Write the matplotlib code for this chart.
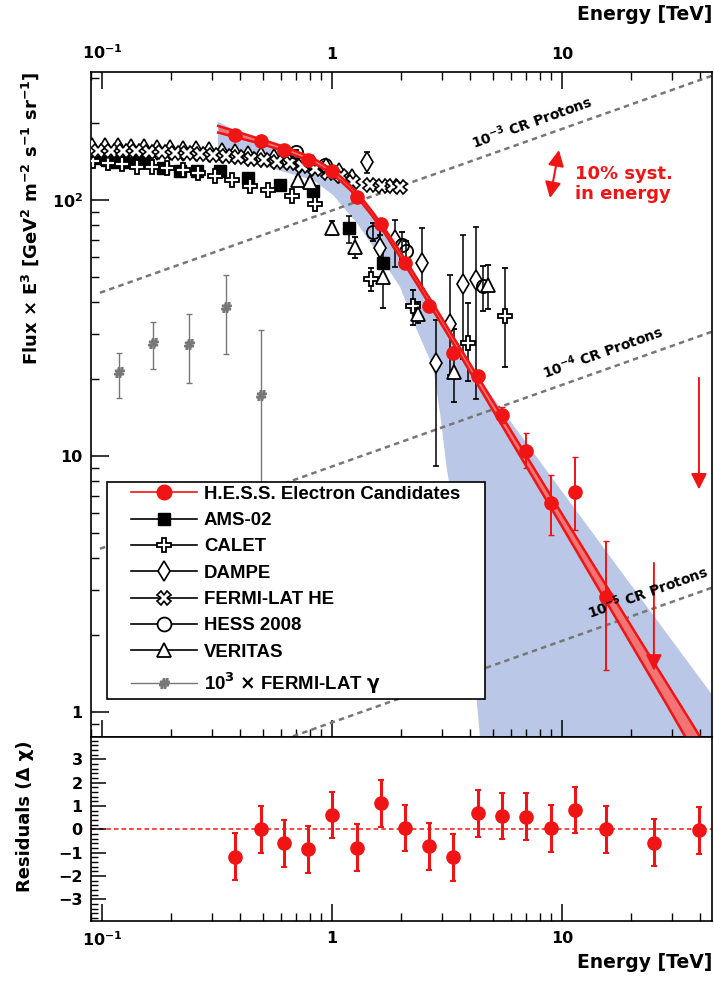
import numpy as np
import matplotlib
matplotlib.use('Agg')
import matplotlib.pyplot as plt
from matplotlib.lines import Line2D
from matplotlib.legend_handler import HandlerLine2D
from matplotlib.ticker import FuncFormatter, MultipleLocator, NullFormatter, LogLocator

plt.rcParams['font.family'] = ['DejaVu Sans']
plt.rcParams['font.weight'] = 'bold'
plt.rcParams['mathtext.fontset'] = 'dejavusans'
plt.rcParams['mathtext.default'] = 'bf'

RED = '#f01414'
BLUE = '#bac7e6'
GREY = '#777777'

# H.E.S.S. electron candidates (TeV, GeV^2 m^-2 s^-1 sr^-1)
hess_E = [0.38, 0.49, 0.62, 0.79, 1.0, 1.28, 1.63, 2.07, 2.64, 3.37, 4.3, 5.5, 7.0, 9.0, 11.4, 15.5]
hess_F = [179, 170, 157, 143, 130, 103, 80.6, 56.8, 38.5, 25.3, 20.5, 14.5, 10.46, 6.55, 7.23, 2.81]
hess_lo = [1.5, 1.5, 1.5, 1.5, 1.5, 1.5, 1.5, 1.5, 1.2, 1.0, 1.0, 1.0, 1.5, 1.65, 2.1, 1.35]
hess_hi = [1.5, 1.5, 1.5, 1.5, 1.5, 1.5, 1.5, 1.5, 1.2, 1.0, 1.0, 1.0, 1.8, 1.85, 2.7, 1.85]
ul_E = [25.1, 39.4]
ul_top = [3.82, 20.2]
ul_tip = [1.45, 7.4]

# broken power-law fit and its statistical band
model_E = [0.32, 0.4, 0.5, 0.63, 0.8, 0.9, 1.0, 1.1, 1.2, 1.35, 1.5, 1.7, 2.0, 2.4, 2.8,
           3.4, 4.0, 5.0, 6.3, 8.0, 10, 13, 17, 22, 28, 36, 45]
model_F = [189, 178.5, 168.3, 157.5, 144.6, 136.7, 128.6, 120.1, 111.7, 99.3, 88.1, 75.3, 60.4, 46.5, 37.2,
           27.9, 21.96, 15.75, 11.18, 7.83, 5.62, 3.80, 2.55, 1.737, 1.216, 0.835, 0.597]
model_w = [0.03, 0.025, 0.02, 0.02, 0.02, 0.02, 0.02, 0.02, 0.02, 0.02, 0.02, 0.02, 0.025, 0.025, 0.03,
           0.03, 0.035, 0.04, 0.045, 0.05, 0.055, 0.065, 0.075, 0.085, 0.095, 0.11, 0.12]

# systematic band
band_up_E = [0.319, 0.40, 0.5, 0.7, 1.0, 1.5, 2.0, 3.0, 4.6, 8.88, 14.6, 24.1, 45.5]
band_up_F = [202, 183, 171, 157, 131, 90, 62, 34.5, 18.8, 8.4, 4.59, 2.49, 1.15]
band_lo_E = [0.319, 0.486, 0.827, 1.01, 1.284, 1.62, 1.975, 2.34, 2.75, 2.95, 3.16, 3.68, 4.06, 4.27, 4.40, 4.45, 50]
band_lo_F = [143, 137, 119.7, 104.6, 81.3, 59.9, 45.8, 31.0, 22.3, 14.7, 8.84, 3.93, 1.91, 1.08, 0.8, 0.5, 0.5]

# other experiments
ams_E = [0.0914, 0.0981, 0.105, 0.114, 0.126, 0.142, 0.156, 0.184, 0.218, 0.260, 0.326, 0.431, 0.594, 0.827, 1.186, 1.666]
ams_F = [147, 146, 143, 141, 141, 143, 141, 133, 130, 130, 130, 122, 114, 108, 77.7, 56.7]
ams_lo = [0, 0, 0, 0, 0, 0, 0, 0, 0, 0, 0, 0, 2, 3, 10, 8]
ams_hi = [0, 0, 0, 0, 0, 0, 0, 0, 0, 0, 0, 0, 2, 3, 9, 8]

calet_E = [0.0914, 0.106, 0.122, 0.142, 0.165, 0.192, 0.225, 0.262, 0.310, 0.367, 0.440, 0.527, 0.670, 0.843, 1.48, 2.25, 3.9, 5.65]
calet_F = [142, 139.5, 138, 135, 135, 133, 131, 128, 124, 120, 113, 109, 104, 96.5, 49, 38.5, 27.6, 35.2]
calet_lo = [0, 0, 0, 0, 0, 0, 0, 0, 0, 0, 0, 0, 2, 3, 5, 6, 8, 13]
calet_hi = [0, 0, 0, 0, 0, 0, 0, 0, 0, 0, 0, 0, 2, 3, 5, 6, 12, 19]

dampe_E = [0.0905, 0.103, 0.117, 0.134, 0.152, 0.173, 0.198, 0.225, 0.256, 0.292, 0.332, 0.379, 0.431, 0.491,
           0.560, 0.637, 0.726, 0.827, 0.942, 1.07, 1.22, 1.42, 1.62, 1.88, 2.46, 2.83, 3.26, 3.71, 4.23]
dampe_F = [160, 159, 159, 158, 158, 157, 157, 156, 155, 154, 153, 151, 149, 147,
           145, 143, 140, 137, 133, 127, 121, 141, 65, 69.8, 56.7, 23.1, 32.8, 47, 48.7]
dampe_lo = [0, 0, 0, 0, 0, 0, 0, 0, 0, 0, 0, 0, 0, 0, 0, 0, 2, 2, 3, 4, 5, 13, 8, 15, 12, 14, 12, 23, 32]
dampe_hi = [0, 0, 0, 0, 0, 0, 0, 0, 0, 0, 0, 0, 0, 0, 0, 0, 2, 2, 3, 4, 5, 13, 8, 14, 21, 11, 18, 26, 30]

fermi_E = [0.096, 0.109, 0.124, 0.141, 0.160, 0.182, 0.207, 0.235, 0.267, 0.303, 0.345, 0.392, 0.445,
           0.506, 0.575, 0.654, 0.743, 0.845, 0.96, 1.09, 1.24, 1.46, 1.65, 1.84, 1.98]
fermi_F = [156, 156, 155, 155, 154, 154, 153, 152, 151, 150, 149, 147, 145,
           143, 141, 139, 136, 132, 128, 124, 118, 114, 113, 113, 112]

hess08_E = [0.70, 0.93, 1.51, 2.01, 2.10, 4.53]
hess08_F = [154, 137, 75, 66.7, 63, 46]
hess08_err = [3, 4, 6, 8, 6, 9]

veritas_E = [0.71, 0.80, 1.0, 1.26, 1.67, 2.36, 3.39, 4.76]
veritas_F = [120, 118, 78, 65.5, 50, 36, 21.3, 46.6]
veritas_lo = [3, 3, 5, 6, 12, 3, 5, 9]
veritas_hi = [3, 3, 5, 6, 7, 4, 10, 9]

gamma_E = [0.1186, 0.166, 0.239, 0.346, 0.491]
gamma_F = [21.2, 27.6, 27.4, 38.2, 17.3]
gamma_lo = [4.3, 5.7, 8.1, 13.2, 12.3]
gamma_hi = [4.0, 5.8, 8.5, 12.8, 13.8]

# cosmic-ray protons x 1e-3, 1e-4, 1e-5
proton_E = [0.098, 45]
proton_F = [43.4, 306]

# residuals
res_E = [0.38, 0.49, 0.62, 0.79, 1.0, 1.28, 1.63, 2.07, 2.64, 3.37, 4.3, 5.5, 7.0, 9.0, 11.4, 15.5, 25.1, 39.4]
res = [-1.17, 0.0, -0.6, -0.86, 0.61, -0.79, 1.11, 0.06, -0.73, -1.19, 0.69, 0.57, 0.54, 0.04, 0.83, 0.0, -0.57, -0.04]
res_err = [1.0, 1.0, 1.0, 1.0, 1.0, 1.0, 1.0, 1.0, 1.0, 1.0, 1.0, 1.0, 1.0, 1.0, 1.0, 1.0, 1.0, 1.0]


fig = plt.figure(figsize=(7.14, 9.81), dpi=100)
ax = fig.add_axes([0.1275, 0.2487, 0.8697, 0.6779])
rx = fig.add_axes([0.1275, 0.0612, 0.8697, 0.1875], sharex=ax)

ax.fill(np.concatenate([band_up_E, band_lo_E[::-1]]), np.concatenate([band_up_F, band_lo_F[::-1]]),
        color=BLUE, lw=0, zorder=1)

dash = (0, (2.2, 1.7))
for scale, txt, tE, tF in [(1e0, r'10$^{-3}$ CR Protons', 7.42, 202),
                           (1e-1, r'10$^{-4}$ CR Protons', 15.1, 25.5),
                           (1e-2, r'10$^{-5}$ CR Protons', 23.7, 2.94)]:
    ax.plot(proton_E, np.array(proton_F) * scale, ls=dash, color=GREY, lw=1.8, zorder=2)
    ax.text(tE, tF, txt, rotation=19.6, rotation_mode='anchor', ha='center', va='center',
            fontsize=10, zorder=6)

ekw = dict(ecolor='black', elinewidth=1.1, capsize=2.5, capthick=1.1, zorder=3, ls='none')
ax.errorbar(ams_E, ams_F, yerr=[ams_lo, ams_hi], fmt='s', ms=8.5, mfc='black', mec='black', **ekw)
ax.errorbar(calet_E, calet_F, yerr=[calet_lo, calet_hi], fmt='P', ms=10, mfc='white', mec='black', mew=1.3, **ekw)
ax.errorbar(dampe_E, dampe_F, yerr=[dampe_lo, dampe_hi], fmt='d', ms=10, mfc='white', mec='black', mew=1.2, **ekw)
ax.errorbar(fermi_E, fermi_F, fmt='X', ms=9.5, mfc='white', mec='black', mew=1.2, **ekw)
ax.errorbar(hess08_E, hess08_F, yerr=hess08_err, fmt='o', ms=9.5, mfc='none', mec='black', mew=1.3, **ekw)
ax.errorbar(veritas_E, veritas_F, yerr=[veritas_lo, veritas_hi], fmt='^', ms=10, mfc='white', mec='black', mew=1.3, **ekw)
ax.errorbar(gamma_E, gamma_F, yerr=[gamma_lo, gamma_hi], fmt='', marker=r'$\#$', ms=7, color=GREY, mec=GREY,
            ecolor=GREY, elinewidth=1.0, capsize=2.5, zorder=3, ls='none')

mF = np.array(model_F)
mw = np.array(model_w)
ax.fill_between(model_E, mF * (1 - mw), mF * (1 + mw), color='#f27474', lw=0, zorder=4)
ax.plot(model_E, mF * (1 - mw), color=RED, lw=1.8, zorder=4)
ax.plot(model_E, mF * (1 + mw), color=RED, lw=1.8, zorder=4)

ax.errorbar(hess_E, hess_F, yerr=[hess_lo, hess_hi], fmt='o', ms=9.5, color=RED,
            elinewidth=1.4, capsize=2, zorder=5, ls='none')
for e, top, tip in zip(ul_E, ul_top, ul_tip):
    ax.annotate('', xy=(e, tip), xytext=(e, top),
                arrowprops=dict(arrowstyle='-|>', color=RED, lw=1.4, mutation_scale=24,
                                shrinkA=0, shrinkB=0), zorder=5)

ax.annotate('', xy=(9.70, 156.7), xytext=(8.87, 101.8),
            arrowprops=dict(arrowstyle='<|-|>', color=RED, lw=1.5, mutation_scale=24,
                            shrinkA=0, shrinkB=0))
ax.text(11.39, 115.5, '10% syst.\nin energy', color=RED, fontsize=13, ha='left', va='center', linespacing=1.2)

ax.set_xscale('log')
ax.set_yscale('log')
ax.set_xlim(0.0896, 44.9)
ax.set_ylim(0.798, 316.2)
rx.set_ylim(-3.92, 3.95)

xlab = {0.1: r'$10^{-1}$', 1.0: '1', 10.0: '10'}
ylab = {1.0: '1', 10.0: '10', 100.0: r'$10^{2}$'}
ax.xaxis.set_major_formatter(FuncFormatter(lambda v, p: xlab.get(round(v, 6), '')))
ax.xaxis.set_minor_formatter(NullFormatter())
ax.yaxis.set_major_locator(LogLocator(base=10))
ax.yaxis.set_minor_locator(LogLocator(base=10, subs=np.arange(2, 10)))
ax.yaxis.set_major_formatter(FuncFormatter(lambda v, p: ylab.get(round(v, 6), '')))
ax.yaxis.set_minor_formatter(NullFormatter())

ax.tick_params(axis='x', which='both', direction='in', top=True, bottom=True,
               labeltop=True, labelbottom=False, labelsize=11.5, pad=7)
ax.tick_params(axis='x', which='major', length=12, width=1.1)
ax.tick_params(axis='x', which='minor', length=6, width=1.0)
ax.tick_params(axis='y', which='both', direction='in', left=True, right=False, labelsize=11.5, pad=6)
ax.tick_params(axis='y', which='major', length=13, width=1.1)
ax.tick_params(axis='y', which='minor', length=6, width=1.0)

rx.axhline(0, color=RED, ls=(0, (3, 2)), lw=1.1, zorder=1)
rx.errorbar(res_E, res, yerr=res_err, fmt='o', ms=9.5, color=RED, elinewidth=2.2, capsize=2,
            capthick=1.5, ls='none', zorder=3)
rx.yaxis.set_major_locator(MultipleLocator(1))
rx.yaxis.set_minor_locator(MultipleLocator(0.2))
rx.tick_params(axis='x', which='both', direction='in', top=False, bottom=True,
               labeltop=False, labelbottom=True, labelsize=11.5, pad=7)
rx.tick_params(axis='x', which='major', length=12, width=1.1)
rx.tick_params(axis='x', which='minor', length=6, width=1.0)
rx.tick_params(axis='y', which='both', direction='in', labelsize=11.5, pad=6)
rx.tick_params(axis='y', which='major', length=11, width=1.1)
rx.tick_params(axis='y', which='minor', length=5, width=1.0)

for a in (ax, rx):
    for s in a.spines.values():
        s.set_linewidth(1.2)

handles = [
    Line2D([], [], color=RED, marker='o', ms=10.5, lw=1.2),
    Line2D([], [], color='black', marker='s', ms=9, lw=1.2),
    Line2D([], [], color='black', marker='P', ms=10.5, mfc='white', mew=1.3, lw=1.2),
    Line2D([], [], color='black', marker='d', ms=10.5, mfc='white', mew=1.2, lw=1.2),
    Line2D([], [], color='black', marker='X', ms=10, mfc='white', mew=1.2, lw=1.2),
    Line2D([], [], color='black', marker='o', ms=10, mfc='white', mew=1.3, lw=1.2),
    Line2D([], [], color='black', marker='^', ms=10.5, mfc='white', mew=1.3, lw=1.2),
    Line2D([], [], color=GREY, marker=r'$\#$', ms=7, lw=1.0),
]
labels = ['H.E.S.S. Electron Candidates', 'AMS-02', 'CALET', 'DAMPE', 'FERMI-LAT HE',
          'HESS 2008', 'VERITAS', r'10$^{3}$ $\times$ FERMI-LAT $\gamma$']
leg = ax.legend(handles, labels, loc='upper left', bbox_to_anchor=(0.0258, 0.3835, 0.6087, 0.0),
                mode='expand', prop={'family': 'Liberation Sans', 'weight': 'bold', 'size': 13.4},
                frameon=True, fancybox=False, edgecolor='black', framealpha=1, borderpad=0.2,
                handlelength=4.62, handletextpad=0.38, labelspacing=0.5, borderaxespad=0,
                handler_map={Line2D: HandlerLine2D(xpad=1.07)})
leg.get_frame().set_linewidth(1.2)
leg.set_zorder(10)

fig.text(30 / 714, 1 - 71 / 981, r'Flux $\times$ E$^{3}$ [GeV$^{2}$ m$^{-2}$ s$^{-1}$ sr$^{-1}$]',
         rotation=90, ha='center', va='top', fontsize=13)
fig.text(25 / 714, 1 - 740 / 981, 'Residuals (Δ χ)', rotation=90, ha='center', va='top', fontsize=13)
fig.text(712 / 714, 1 - 15 / 981, 'Energy [TeV]', ha='right', va='center', fontsize=13.5)
fig.text(712 / 714, 1 - 963 / 981, 'Energy [TeV]', ha='right', va='center', fontsize=13.5)

fig.savefig('out.png', dpi=100)
